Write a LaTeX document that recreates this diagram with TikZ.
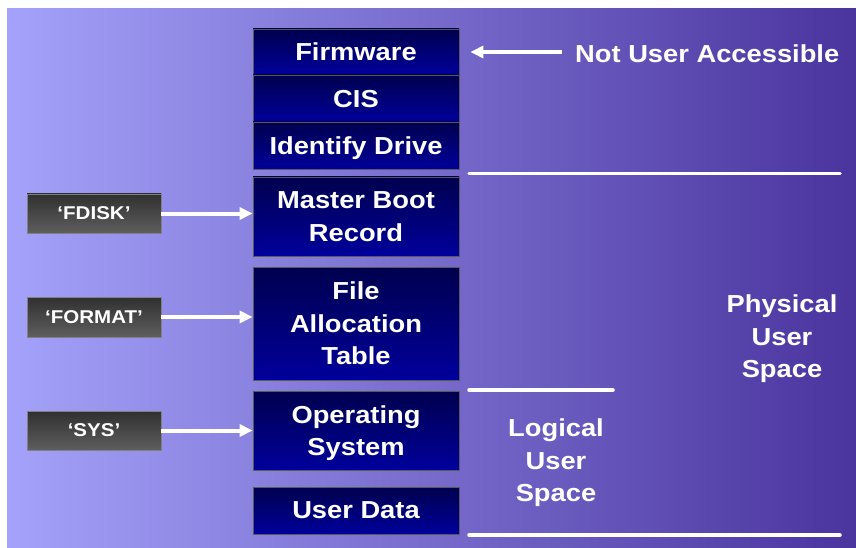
\documentclass[tikz,border=0pt]{standalone}
\usepackage{fontspec}
\setmainfont{Liberation Sans}[FakeStretch=1.11]
\usepackage{tikz}
\usetikzlibrary{arrows.meta}

\definecolor{bgleft}{RGB}{164,162,250}
\definecolor{bgmid}{RGB}{118,104,214}
\definecolor{bgright}{RGB}{74,52,158}
\definecolor{blktop}{RGB}{0,0,78}
\definecolor{blkbot}{RGB}{0,0,156}
\definecolor{cmdtop}{RGB}{48,48,48}
\definecolor{cmdbot}{RGB}{94,94,94}

\tikzset{
  blk/.style={rectangle, minimum width=206pt, inner sep=0pt, draw=gray!70!black,
    line width=0.8pt, top color=blktop, bottom color=blkbot, text=white,
    align=center, text depth=0pt, font=\bfseries\fontsize{24.6}{32.5}\selectfont},
  cmd/.style={rectangle, minimum width=134pt, inner sep=0pt, draw=gray,
    line width=0.8pt, top color=cmdtop, bottom color=cmdbot, text=white,
    text depth=0pt, font=\bfseries\fontsize{18.5}{22}\selectfont},
  lbl/.style={text=white, align=center, inner sep=0pt, text depth=0pt,
    font=\bfseries\fontsize{24.6}{32.5}\selectfont},
  arr/.style={white, line width=4pt, -{Triangle[length=13pt,width=12pt]}},
  sep/.style={white, line width=3.5pt, line cap=round}
}

\begin{document}
\begin{tikzpicture}[x=1pt, y=-1pt]
        \useasboundingbox (0,0) rectangle (856,548);
        \fill[white] (0,0) rectangle (856,548);
        \fill[left color=bgleft, middle color=bgmid, right color=bgright] (7,9) rectangle (856,548);
        % disk layout, top to bottom
        \node[blk, minimum height=46pt] (fw)  at (356,52)    {Firmware};
        \node[blk, minimum height=47pt] (cis) at (356,98.5)  {CIS};
        \node[blk, minimum height=47pt] (idd) at (356,145.5) {Identify Drive};
        \node[blk, minimum height=79pt] (mbr) at (356,216.5) {Master Boot\\Record};
        \node[blk, minimum height=113pt] (fat) at (356,323.5) {File\\Allocation\\Table};
        \node[blk, minimum height=79pt] (os)  at (356,430.5) {Operating\\System};
        \node[blk, minimum height=47pt] (ud)  at (356,510.5) {User Data};
        % commands that write each area
        \node[cmd, minimum height=39pt] (fdisk)  at (94,213.5) {`FDISK'};
        \node[cmd, minimum height=40pt] (format) at (94,317)   {`FORMAT'};
        \node[cmd, minimum height=39pt] (sys)    at (94,430.5) {`SYS'};
        \foreach \c/\b in {fdisk/mbr, format/fat, sys/os}
            \draw[arr] (\c.east) -- (\c -| \b.west);
        % labels on the right
        \node[lbl, anchor=west] (nua) at (575,53.5) {Not User Accessible};
        \draw[arr] ([xshift=-13pt]nua.west |- fw.east) -- ([xshift=11pt]fw.east);
        \node[lbl] (phys) at (782,336.5) {Physical\\User\\Space};
        \node[lbl] (logi) at (556,460.5) {Logical\\User\\Space};
        % separators
        \draw[sep] (469,173.5) -- (840,173.5);
        \draw[sep] (469,390) -- (613,390);
        \draw[sep] (469,535) -- (840,535);
    \end{tikzpicture}
\end{document}
